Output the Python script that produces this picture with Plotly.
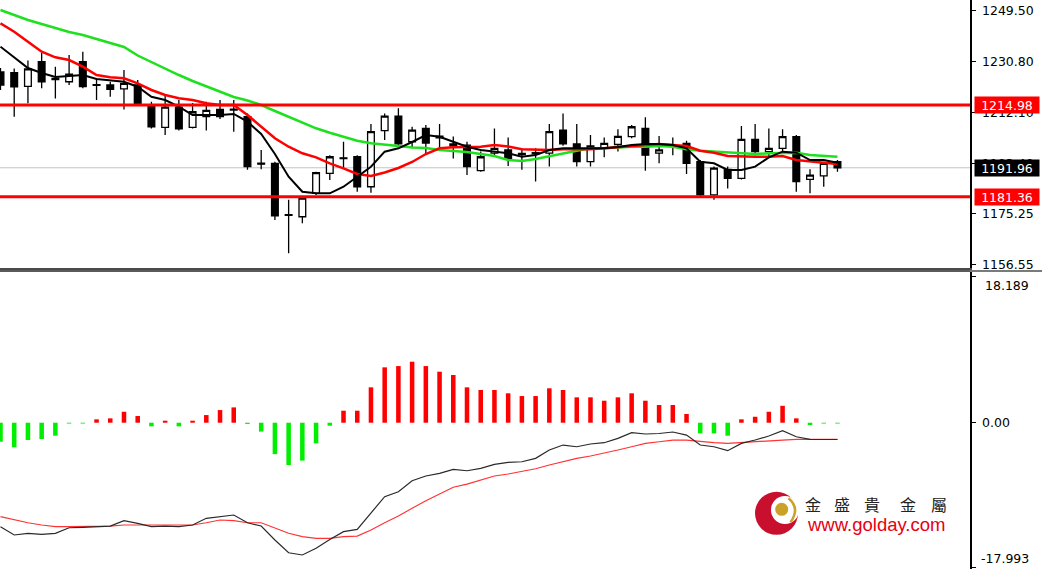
import plotly.graph_objects as go

# ---------------- data ----------------
bar_index = list(range(62))

opens = [1227.1, 1226.8, 1221.8, 1230.9, 1224.7, 1223.5, 1230.9, 1222.4, 1222.3, 1220.9,
         1222.3, 1214.6, 1206.8, 1214.2, 1206.8, 1210.7, 1213.4, 1213.5, 1210.7, 1193.7,
         1193.6, 1174.8, 1174.0, 1182.6, 1189.9, 1195.6, 1196.0, 1185.0, 1205.6, 1210.9,
         1201.5, 1206.4, 1203.6, 1200.7, 1200.3, 1190.9, 1197.3, 1198.5, 1197.2, 1197.1,
         1197.3, 1205.8, 1200.7, 1194.2, 1199.1, 1200.5, 1203.4, 1206.4, 1197.3, 1200.2,
         1200.9, 1194.2, 1182.0, 1191.4, 1188.1, 1202.4, 1197.9, 1199.1, 1203.4, 1187.7,
         1189.0, 1194.2]
highs = [1228.5, 1228.4, 1231.3, 1234.0, 1229.0, 1233.3, 1234.5, 1224.9, 1223.5, 1227.8,
         1224.1, 1216.2, 1218.6, 1216.8, 1215.7, 1216.2, 1216.8, 1216.8, 1211.9, 1198.5,
         1194.2, 1180.2, 1181.4, 1190.5, 1196.6, 1201.5, 1196.6, 1208.0, 1211.9, 1213.8,
         1207.0, 1207.6, 1208.0, 1203.4, 1201.5, 1197.9, 1206.4, 1203.1, 1199.1, 1199.1,
         1208.0, 1211.9, 1208.0, 1204.0, 1203.1, 1206.1, 1207.6, 1210.5, 1203.6, 1203.1,
         1201.9, 1194.8, 1192.4, 1192.4, 1207.3, 1208.0, 1206.4, 1206.1, 1204.0, 1191.4,
         1194.2, 1194.8]
lows = [1220.5, 1210.7, 1215.6, 1221.1, 1217.4, 1222.3, 1221.1, 1216.8, 1218.0, 1213.3,
        1215.3, 1206.4, 1204.0, 1205.6, 1206.4, 1205.6, 1209.8, 1205.2, 1191.2, 1191.4,
        1172.8, 1160.6, 1171.6, 1182.0, 1187.5, 1191.8, 1183.2, 1182.8, 1202.1, 1200.3,
        1199.1, 1197.4, 1198.5, 1195.4, 1189.3, 1190.5, 1196.6, 1192.6, 1191.2, 1186.9,
        1192.4, 1200.0, 1192.4, 1192.4, 1195.8, 1197.9, 1202.8, 1190.9, 1193.6, 1196.6,
        1189.7, 1181.6, 1180.2, 1184.4, 1187.7, 1196.6, 1196.0, 1197.9, 1183.2, 1182.6,
        1185.0, 1190.5]
closes = [1222.3, 1221.6, 1228.2, 1223.5, 1224.3, 1226.3, 1221.7, 1222.2, 1220.7, 1222.9,
          1215.6, 1207.0, 1214.2, 1206.2, 1212.5, 1213.0, 1210.7, 1213.1, 1192.4, 1193.3,
          1174.3, 1174.5, 1180.8, 1190.2, 1196.0, 1195.3, 1185.0, 1205.2, 1210.9, 1200.7,
          1205.8, 1201.0, 1202.9, 1200.0, 1192.4, 1196.0, 1199.1, 1195.4, 1196.8, 1197.5,
          1205.2, 1200.7, 1194.2, 1200.0, 1200.9, 1203.5, 1207.0, 1196.6, 1198.5, 1200.4,
          1193.6, 1182.0, 1191.8, 1188.1, 1202.4, 1197.9, 1199.1, 1203.4, 1186.9, 1189.3,
          1193.6, 1191.96]

ma_fast = [1236.35, 1232.57, 1228.54, 1226.71, 1225.24, 1225.61, 1225.97, 1224.51, 1224.14, 1223.52,
           1221.69, 1218.02, 1216.81, 1214.35, 1211.31, 1211.31, 1211.31, 1211.68, 1208.86, 1204.35,
           1197.01, 1188.69, 1183.19, 1182.61, 1182.61, 1185.03, 1188.69, 1192.36, 1197.86, 1199.10,
           1201.41, 1203.98, 1203.36, 1201.52, 1199.69, 1198.48, 1197.86, 1197.27, 1196.02, 1196.65,
           1198.48, 1199.10, 1199.10, 1199.10, 1199.10, 1199.58, 1200.31, 1200.68, 1200.68, 1200.31,
           1199.10, 1194.19, 1193.60, 1191.15, 1191.15, 1192.36, 1195.80, 1197.86, 1197.49, 1194.81,
           1194.81, 1193.82]
ma_mid = [1244.93, 1241.85, 1238.18, 1234.52, 1232.46, 1231.47, 1229.02, 1225.97, 1225.13, 1224.76,
          1222.93, 1220.48, 1218.64, 1217.43, 1216.81, 1215.60, 1214.98, 1214.98, 1211.31, 1207.02,
          1202.77, 1199.69, 1197.27, 1195.80, 1193.60, 1191.77, 1189.68, 1188.95, 1190.23, 1191.88,
          1194.08, 1197.01, 1199.10, 1199.47, 1199.69, 1199.69, 1200.31, 1199.76, 1198.74, 1198.48,
          1198.48, 1198.74, 1198.74, 1198.74, 1199.10, 1199.58, 1199.95, 1200.31, 1200.68, 1200.31,
          1199.95, 1198.22, 1197.49, 1196.28, 1196.02, 1196.02, 1196.02, 1196.28, 1194.81, 1194.19,
          1193.82, 1193.35]
ma_slow = [1249.80, 1247.97, 1246.14, 1244.67, 1243.21, 1241.74, 1240.64, 1239.17, 1237.71, 1236.24,
           1233.12, 1230.74, 1228.17, 1225.97, 1223.78, 1221.76, 1219.93, 1217.91, 1216.63, 1214.98,
           1212.78, 1210.58, 1208.38, 1206.44, 1204.82, 1203.36, 1201.89, 1200.94, 1200.31, 1199.95,
           1199.40, 1199.21, 1198.48, 1198.11, 1197.75, 1197.01, 1196.28, 1194.81, 1194.45, 1195.18,
           1196.28, 1197.38, 1198.22, 1199.10, 1199.10, 1199.40, 1199.69, 1199.69, 1199.95, 1199.69,
           1198.74, 1198.22, 1197.86, 1197.49, 1197.27, 1197.01, 1197.27, 1197.49, 1197.49, 1196.65,
           1196.28, 1196.02]

resistance = 1214.98
support = 1181.36
last_price = 1191.96

price_ticks = [1249.50, 1230.80, 1212.10, 1193.40, 1175.25, 1156.55]

macd_hist = [-2.36, -3.05, -2.15, -2.02, -1.61, -0.10, -0.10, 0.42, 0.54, 1.36,
             0.83, -0.45, 0.25, -0.45, 0.25, 0.95, 1.57, 1.90, -0.15, -1.10,
             -3.90, -5.25, -4.70, -2.56, -0.37, 1.49, 1.49, 4.39, 6.87, 7.03,
             7.57, 7.03, 6.33, 5.92, 4.39, 4.06, 4.06, 3.65, 3.31, 3.31,
             4.27, 4.06, 3.15, 3.15, 2.73, 3.15, 3.65, 2.73, 2.20, 2.20,
             1.08, -1.32, -1.32, -1.61, 0.42, 0.74, 1.36, 2.10, 0.54, -0.29,
             -0.10, -0.10]
macd_main = [-12.90, -13.93, -13.72, -13.85, -13.72, -13.03, -12.98, -12.90, -12.82, -12.16,
             -12.48, -12.90, -12.82, -12.90, -12.69, -11.86, -11.66, -11.45, -12.41, -12.82,
             -14.55, -16.13, -16.41, -15.58, -14.49, -13.52, -13.23, -11.24, -9.18, -8.56,
             -7.20, -6.61, -6.28, -5.78, -5.96, -5.66, -5.16, -4.91, -4.84, -4.42,
             -3.39, -2.77, -2.98, -2.64, -2.48, -1.94, -1.24, -1.40, -1.34, -1.15,
             -1.53, -2.77, -2.98, -3.47, -2.56, -2.15, -1.65, -0.99, -1.74, -2.06,
             -2.08, -2.08]
macd_signal = [-11.66, -12.07, -12.41, -12.69, -12.90, -12.90, -12.90, -12.90, -12.82, -12.69,
               -12.69, -12.69, -12.69, -12.69, -12.69, -12.41, -12.07, -12.16, -12.41, -12.41,
               -13.10, -13.72, -14.14, -14.34, -14.34, -14.14, -14.06, -13.31, -12.41, -11.58,
               -10.62, -9.68, -8.85, -8.01, -7.61, -7.11, -6.61, -6.36, -6.08, -5.71,
               -5.25, -4.84, -4.42, -4.13, -3.80, -3.39, -2.98, -2.56, -2.36, -2.15,
               -2.15, -2.36, -2.48, -2.56, -2.48, -2.36, -2.23, -2.15, -2.06, -2.06,
               -2.06, -2.06]
macd_top = 18.189
macd_bottom = -17.993

# ---------------- geometry helpers (layout only) ----------------
W, H = 1042, 573
PLOT_W = 970.0


def px(xp):
    return xp / PLOT_W


def py(yp):
    return 1 - yp / H


x_range = [-0.036, 70.66]
font_axis = dict(family="DejaVu Sans", size=12.5, color="black")

fig = go.Figure()

fig.add_trace(go.Candlestick(
    x=bar_index, open=opens, high=highs, low=lows, close=closes,
    increasing=dict(line=dict(color="black", width=1.3), fillcolor="white"),
    decreasing=dict(line=dict(color="black", width=1.3), fillcolor="black"),
    whiskerwidth=0, xaxis="x", yaxis="y", hoverinfo="skip", showlegend=False))

fig.add_trace(go.Scatter(x=bar_index, y=ma_slow, mode="lines",
                         line=dict(color="#1ee01e", width=2.5), xaxis="x", yaxis="y",
                         hoverinfo="skip"))
fig.add_trace(go.Scatter(x=bar_index, y=ma_mid, mode="lines",
                         line=dict(color="#ff0000", width=2.5), xaxis="x", yaxis="y",
                         hoverinfo="skip"))
fig.add_trace(go.Scatter(x=bar_index, y=ma_fast, mode="lines",
                         line=dict(color="black", width=2), xaxis="x", yaxis="y",
                         hoverinfo="skip"))

hist_colors = ["#ff0000" if v > 0 else "#00ee00" for v in macd_hist]
fig.add_trace(go.Bar(x=bar_index, y=macd_hist, width=0.33,
                     marker=dict(color=hist_colors, line=dict(width=0)),
                     xaxis="x2", yaxis="y2", hoverinfo="skip"))
fig.add_trace(go.Scatter(x=bar_index, y=macd_signal, mode="lines",
                         line=dict(color="#ff3333", width=1.2), xaxis="x2", yaxis="y2",
                         hoverinfo="skip"))
fig.add_trace(go.Scatter(x=bar_index, y=macd_main, mode="lines",
                         line=dict(color="#2a2a2a", width=1.2), xaxis="x2", yaxis="y2",
                         hoverinfo="skip"))

main_dom = [py(268), 1]
macd_dom = [py(569), py(272)]

fig.update_layout(
    template="none",
    width=W, height=H, margin=dict(l=0, r=72, t=0, b=0, pad=0, autoexpand=False),
    paper_bgcolor="white", plot_bgcolor="white", showlegend=False,
    xaxis=dict(domain=[0, 1], range=x_range, anchor="y", showticklabels=False,
               showgrid=False, zeroline=False, showline=True, linecolor="#4a4a4a",
               linewidth=2, ticks="", rangeslider=dict(visible=False), automargin=False),
    yaxis=dict(domain=main_dom, range=[1155.22, 1253.47], side="right", anchor="x",
               showgrid=False, zeroline=False, showline=True, linecolor="black",
               linewidth=1.5, ticks="outside", ticklen=4, tickcolor="black",
               tickvals=price_ticks, ticktext=[f"{v:.2f}" for v in price_ticks],
               tickfont=font_axis, ticklabelstandoff=4, automargin=False),
    xaxis2=dict(domain=[0, 1], range=x_range, anchor="y2", side="top",
                showticklabels=False, showgrid=False, zeroline=False, showline=True,
                linecolor="#5a5a5a", linewidth=2, ticks="", automargin=False),
    yaxis2=dict(domain=macd_dom, range=[-18.15, 18.70], side="right", anchor="x2",
                showgrid=False, zeroline=False, showline=True, linecolor="black",
                linewidth=1.5, ticks="outside", ticklen=4, tickcolor="black",
                tickvals=[macd_top, 0, macd_bottom], ticktext=["", "0.00", ""],
                tickfont=font_axis, ticklabelstandoff=4, automargin=False),
)

shapes = []
# current price line
shapes.append(dict(type="line", xref="paper", x0=0, x1=1, yref="y", y0=last_price,
                   y1=last_price, line=dict(color="#c4c4c4", width=1), layer="below"))
for lvl in (resistance, support):
    shapes.append(dict(type="line", xref="paper", x0=0, x1=1, yref="y", y0=lvl, y1=lvl,
                       line=dict(color="#ff0000", width=3)))
# splitter band right of the axis
shapes.append(dict(type="line", xref="paper", x0=1, x1=1 + 72 / PLOT_W, yref="paper",
                   y0=py(271), y1=py(271), line=dict(color="#7a7a7a", width=2)))

# logo
ax, ay = px(776.5), py(513.3)
shapes.append(dict(type="circle", xref="paper", yref="paper", xsizemode="pixel",
                   ysizemode="pixel", xanchor=ax, yanchor=ay, x0=-21.5, x1=21.5,
                   y0=-21.5, y1=21.5, fillcolor="#c8102e", line=dict(width=0)))
shapes.append(dict(type="circle", xref="paper", yref="paper", xsizemode="pixel",
                   ysizemode="pixel", xanchor=ax, yanchor=ay, x0=-5.5, x1=22.5,
                   y0=-10.7, y1=17.3, fillcolor="white", line=dict(width=0)))
shapes.append(dict(type="path", xref="paper", yref="paper", xsizemode="pixel",
                   ysizemode="pixel", xanchor=ax, yanchor=ay,
                   path="M 12,15 Q 24,5 14,-9", line=dict(color="#c9a227", width=2.5)))
shapes.append(dict(type="circle", xref="paper", yref="paper", xsizemode="pixel",
                   ysizemode="pixel", xanchor=ax, yanchor=ay, x0=-1.3, x1=11.7,
                   y0=-2.5, y1=10.5, fillcolor="#c9a227", line=dict(width=0)))

annotations = []
box_font = dict(family="DejaVu Sans", size=12.5, color="white")
for lvl, col in ((resistance, "#ff0000"), (support, "#ff0000"), (last_price, "black")):
    annotations.append(dict(xref="paper", x=1, xanchor="left", xshift=4, yref="y", y=lvl,
                            text=f"{lvl:.2f}", showarrow=False, font=box_font,
                            bgcolor=col, width=62, height=14, borderpad=1, align="center"))
annotations.append(dict(xref="paper", x=1, xanchor="left", xshift=13, yref="y2",
                        y=macd_top, yanchor="top", text=f"{macd_top:.3f}",
                        showarrow=False, font=font_axis))
annotations.append(dict(xref="paper", x=1, xanchor="left", xshift=9, yref="y2",
                        y=macd_bottom, yanchor="bottom", text=f"{macd_bottom:.3f}",
                        showarrow=False, font=font_axis))

brand_chars = ["金", "盛", "貴", "金", "屬"]
brand_x = [813.3, 842.3, 871.7, 908.3, 939.3]
for ch, xp in zip(brand_chars, brand_x):
    annotations.append(dict(xref="paper", yref="paper", x=px(xp), y=py(504),
                            xanchor="center", yanchor="middle", text=ch, showarrow=False,
                            font=dict(family="Noto Sans CJK TC", size=16, color="#222222")))
annotations.append(dict(xref="paper", yref="paper", x=px(876), y=py(524),
                        xanchor="center", yanchor="middle", text="www.golday.com",
                        showarrow=False,
                        font=dict(family="Liberation Sans", size=18.5, color="#e60012")))

fig.update_layout(shapes=shapes, annotations=annotations)

fig.write_html("out.html",
               config={"displayModeBar": False, "staticPlot": True},
               post_script="document.body.style.margin='0';"
                           "document.body.style.overflow='hidden';")
